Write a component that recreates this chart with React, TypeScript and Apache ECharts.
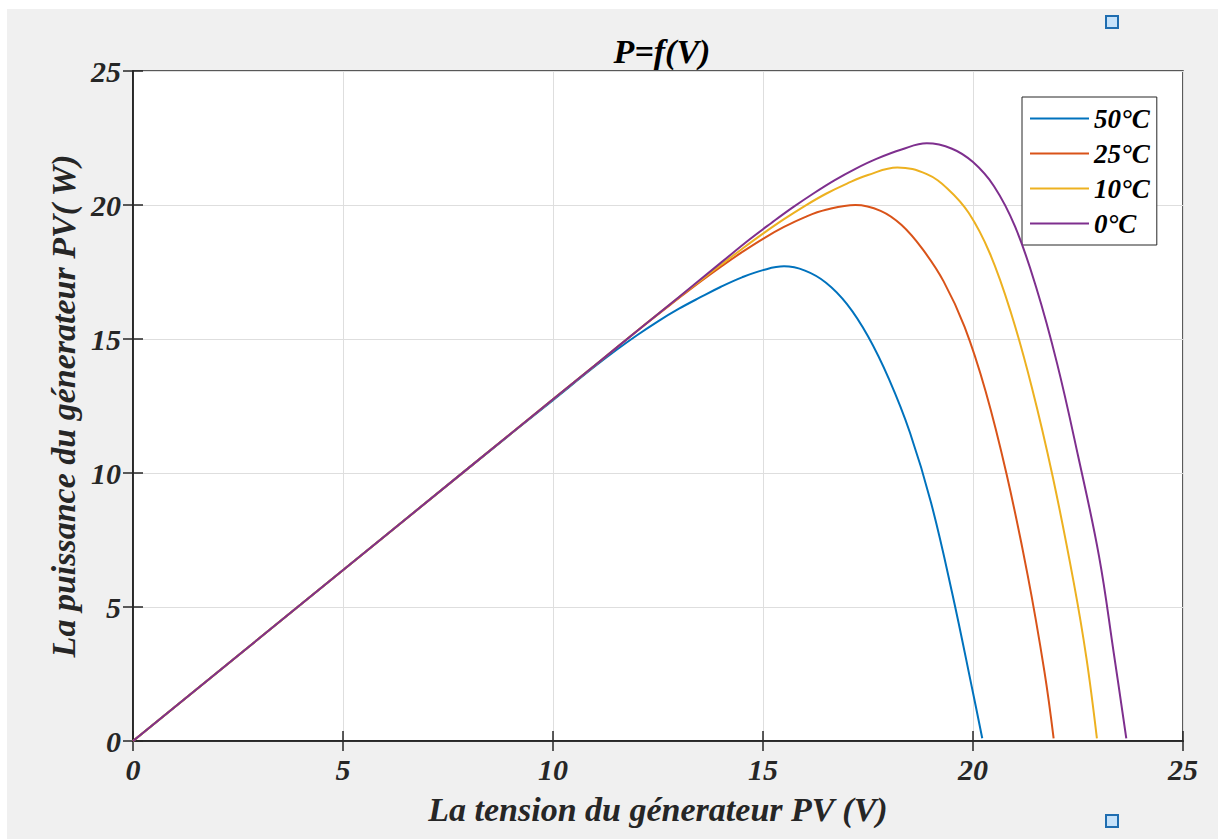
import React, { useEffect, useRef } from "react";
import * as echarts from "echarts";

// Curve readings (voltage V, power W) per temperature
const seriesNames = ["50°C", "25°C", "10°C", "0°C"];
const seriesColors = ["#0072BD", "#D95319", "#EDB120", "#7E2F8E"];

const volt50 = [0, 4, 8, 10, 11, 11.5, 12, 12.5, 13, 13.5, 14, 14.5, 15, 15.5, 16, 16.5, 17, 17.5, 18, 18.5, 19, 19.5, 20, 20.22];
const power50 = [0, 5.1, 10.2, 12.72, 13.98, 14.58, 15.14, 15.66, 16.13, 16.55, 16.95, 17.3, 17.57, 17.71, 17.55, 17.1, 16.3, 15.1, 13.5, 11.5, 8.9, 5.55, 1.8, 0.1];

const volt25 = [0, 4, 8, 10, 11, 12, 13, 13.5, 14, 14.5, 15, 15.5, 16, 16.5, 17.2, 17.8, 18.3, 18.8, 19.3, 19.8, 20.3, 20.8, 21.3, 21.7, 21.92];
const power25 = [0, 5.1, 10.2, 12.75, 14.02, 15.3, 16.53, 17.13, 17.7, 18.24, 18.74, 19.18, 19.55, 19.82, 20.0, 19.78, 19.25, 18.35, 17.15, 15.45, 13.05, 9.95, 6.2, 2.6, 0.1];

const volt10 = [0, 4, 8, 10, 11, 12, 13, 13.5, 14, 14.5, 15, 15.5, 16, 16.5, 17, 17.5, 18.2, 18.9, 19.4, 19.9, 20.4, 20.9, 21.4, 21.9, 22.4, 22.7, 22.95];
const power10 = [0, 5.1, 10.2, 12.75, 14.02, 15.3, 16.56, 17.17, 17.77, 18.36, 18.93, 19.47, 19.97, 20.42, 20.8, 21.12, 21.4, 21.15, 20.6, 19.7, 18.2, 16.0, 13.2, 9.85, 5.9, 3.1, 0.1];

const volt0 = [0, 4, 8, 10, 11, 12, 13, 14, 14.7, 15.2, 15.7, 16.2, 16.7, 17.2, 17.7, 18.3, 18.9, 19.5, 20.0, 20.5, 21.0, 21.5, 22.0, 22.5, 23.0, 23.35, 23.65];
const power0 = [0, 5.1, 10.2, 12.75, 14.02, 15.3, 16.57, 17.85, 18.74, 19.33, 19.9, 20.43, 20.92, 21.35, 21.72, 22.07, 22.3, 22.1, 21.6, 20.7, 19.2, 16.95, 14.1, 10.65, 6.9, 3.3, 0.1];

const axisMin = 0;
const axisMax = 25;
const axisStep = 5;

const titleText = "P=f(V)";
const xAxisTitle = "La tension du génerateur PV (V)";
const yAxisTitle = "La puissance du génerateur PV( W)";

const FONT = "'Liberation Serif', 'Times New Roman', serif";

function zip(xs: number[], ys: number[]) {
  return xs.map((x, i) => [x, ys[i]]);
}

export default function App() {
  const ref = useRef<HTMLDivElement>(null);

  useEffect(() => {
    if (!ref.current) return;
    const chart = echarts.init(ref.current, undefined, { renderer: "svg" });
    const dataSets = [zip(volt50, power50), zip(volt25, power25), zip(volt10, power10), zip(volt0, power0)];

    const labelFont = {
      fontFamily: FONT,
      fontStyle: "italic" as const,
      fontWeight: "bold" as const,
      color: "#262626",
    };

    const baseAxis = {
      type: "value" as const,
      min: axisMin,
      max: axisMax,
      interval: axisStep,
    };

    const boxLine = { show: true, lineStyle: { color: "#262626", width: 1.5 } };
    const boxTick = { show: true, inside: true, length: 10, lineStyle: { color: "#262626", width: 1.5 } };

    chart.setOption({
      animation: false,
      backgroundColor: "#f0f0f0",
      title: {
        text: titleText,
        left: 650,
        top: 20,
        textAlign: "center",
        textStyle: { ...labelFont, fontSize: 34, color: "#000" },
      },
      grid: {
        left: 126,
        top: 62,
        right: 35,
        bottom: 98,
        show: true,
        backgroundColor: "#ffffff",
        borderColor: "#262626",
        borderWidth: 1.5,
      },
      legend: {
        orient: "vertical",
        left: 1015,
        top: 88,
        data: seriesNames,
        icon: "rect",
        itemWidth: 59,
        itemHeight: 2,
        itemGap: 8,
        padding: [8, 7, 8, 8],
        backgroundColor: "#ffffff",
        borderColor: "#262626",
        borderWidth: 1,
        textStyle: { ...labelFont, fontSize: 27, lineHeight: 27, color: "#000" },
      },
      xAxis: [
        {
          ...baseAxis,
          position: "bottom",
          name: xAxisTitle,
          nameLocation: "middle",
          nameGap: 51,
          nameTextStyle: { ...labelFont, fontSize: 34 },
          axisLine: boxLine,
          axisTick: boxTick,
          axisLabel: { ...labelFont, fontSize: 30, margin: 13 },
          splitLine: { show: true, lineStyle: { color: "#dedede", width: 1 } },
        },
        {
          ...baseAxis,
          position: "top",
          axisLine: boxLine,
          axisTick: boxTick,
          axisLabel: { show: false },
          splitLine: { show: false },
        },
      ],
      yAxis: [
        {
          ...baseAxis,
          position: "left",
          name: yAxisTitle,
          nameLocation: "middle",
          nameGap: 50,
          nameTextStyle: { ...labelFont, fontSize: 34 },
          axisLine: boxLine,
          axisTick: boxTick,
          axisLabel: { ...labelFont, fontSize: 30, margin: 12 },
          splitLine: { show: true, lineStyle: { color: "#dedede", width: 1 } },
        },
        {
          ...baseAxis,
          position: "right",
          axisLine: boxLine,
          axisTick: boxTick,
          axisLabel: { show: false },
          splitLine: { show: false },
        },
      ],
      series: dataSets.map((d, i) => ({
        name: seriesNames[i],
        type: "line",
        xAxisIndex: 0,
        yAxisIndex: 0,
        data: d,
        showSymbol: false,
        symbol: "none",
        smooth: 0.4,
        lineStyle: { color: seriesColors[i], width: 2 },
        itemStyle: { color: seriesColors[i] },
        z: 2 + i,
      })),
      graphic: [
        {
          type: "rect",
          shape: { x: 1099, y: 7, width: 12, height: 12 },
          style: { fill: "#c6e2fa", stroke: "#1f6db0", lineWidth: 2 },
        },
        {
          type: "rect",
          shape: { x: 1099, y: 806, width: 12, height: 12 },
          style: { fill: "#c6e2fa", stroke: "#1f6db0", lineWidth: 2 },
        },
      ],
    });

    return () => chart.dispose();
  }, []);

  return (
    <div
      ref={ref}
      style={{ position: "absolute", left: 7, top: 9, width: 1211, height: 830 }}
    />
  );
}
